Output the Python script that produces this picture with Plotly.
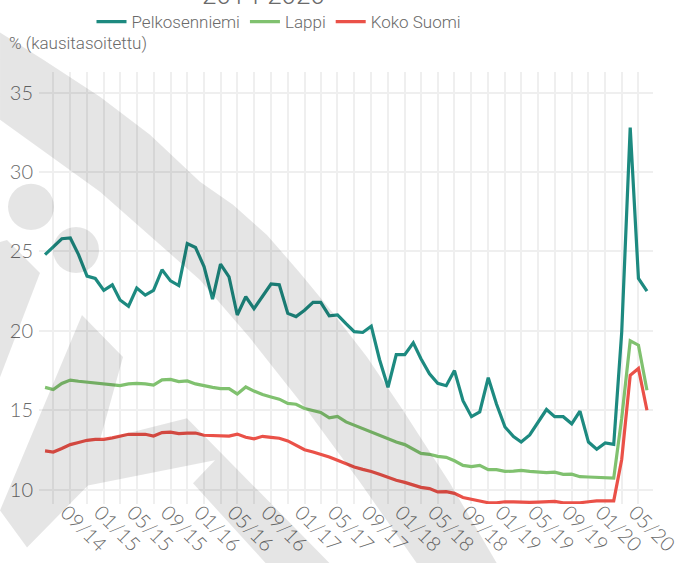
import plotly.graph_objects as go
import pandas as pd

# ---- data (monthly, 06/2014 - 06/2020), seasonally adjusted unemployment %
months = pd.date_range("2014-06-01", "2020-06-01", freq="MS")

pelkosenniemi = [24.8, 25.3, 25.8, 25.85, 24.8, 23.45, 23.3, 22.55, 22.9, 21.95,
                 21.55, 22.7, 22.25, 22.55, 23.85, 23.15, 22.85, 25.5, 25.25, 24.05,
                 22.0, 24.2, 23.4, 21.0, 22.15, 21.4, 22.15, 22.95, 22.9, 21.1,
                 20.9, 21.3, 21.8, 21.8, 20.95, 21.0, 20.45, 19.95, 19.9, 20.3,
                 18.2, 16.45, 18.5, 18.5, 19.25, 18.25, 17.3, 16.7, 16.55, 17.5,
                 15.6, 14.6, 14.9, 17.05, 15.4, 13.95, 13.35, 13.0, 13.45, 14.2,
                 15.05, 14.6, 14.6, 14.15, 14.95, 13.0, 12.55, 12.95, 12.85, 19.9,
                 32.8, 23.3, 22.5]

lappi = [16.44, 16.31, 16.69, 16.9, 16.83, 16.77, 16.71, 16.64, 16.58, 16.56,
         16.66, 16.69, 16.66, 16.58, 16.92, 16.94, 16.81, 16.85, 16.66, 16.53,
         16.44, 16.37, 16.36, 16.03, 16.47, 16.21, 15.99, 15.84, 15.7, 15.43,
         15.38, 15.11, 15.0, 14.86, 14.52, 14.62, 14.27, 14.06, 13.85, 13.6,
         13.41, 13.22, 13.0, 12.84, 12.56, 12.29, 12.23, 12.1, 12.04, 11.82,
         11.53, 11.45, 11.53, 11.26, 11.26, 11.15, 11.17, 11.22, 11.15, 11.11,
         11.07, 11.11, 10.97, 10.98, 10.82, 10.8, 10.78, 10.73, 10.73, 14.5,
         19.38, 19.1, 16.26]

koko_suomi = [12.44, 12.37, 12.59, 12.84, 12.97, 13.11, 13.17, 13.17, 13.26, 13.38,
              13.49, 13.49, 13.49, 13.38, 13.6, 13.62, 13.53, 13.56, 13.57, 13.43,
              13.41, 13.41, 13.38, 13.5, 13.3, 13.2, 13.36, 13.3, 13.24, 13.07,
              12.79, 12.52, 12.37, 12.23, 12.06, 11.85, 11.64, 11.43, 11.28, 11.15,
              10.97, 10.76, 10.59, 10.46, 10.27, 10.15, 10.07, 9.86, 9.88, 9.77,
              9.51, 9.39, 9.28, 9.18, 9.18, 9.24, 9.24, 9.2, 9.2, 9.22,
              9.24, 9.26, 9.18, 9.18, 9.18, 9.24, 9.3, 9.3, 9.3, 11.9,
              17.2, 17.63, 15.0]

series_names = ["Pelkosenniemi", "Lappi", "Koko Suomi"]
series_values = [pelkosenniemi, lappi, koko_suomi]
series_colors = ["#1d8a80", "#80c16f", "#ea5148"]

y_ticks = [10, 15, 20, 25, 30, 35]

# ---- layout geometry (pixels)
W, H = 677, 563
PL, PR, PT, PB = 39, 653, 72.4, 503.6
PW, PH = PR - PL, PB - PT

TXT = "#6a6a6a"
LABF = "Roboto, sans-serif"
TICKF = "Lato, Roboto, sans-serif"


def px(x):
    return (x - PL) / PW


def py(y):
    return (PB - y) / PH


fig = go.Figure()
for name, vals, col in zip(series_names, series_values, series_colors):
    fig.add_trace(go.Scatter(x=months, y=vals, mode="lines", name=name,
                             line=dict(color=col, width=3.2)))

# ---- watermark (semi-transparent grey logo shapes drawn over the chart)
WM = "rgba(0,0,0,0.10)"


def poly(pts):
    d = "M " + " L ".join(f"{px(a):.4f},{py(b):.4f}" for a, b in pts) + " Z"
    return dict(type="path", xref="paper", yref="paper", path=d,
                fillcolor=WM, line=dict(width=0), layer="above")


band = [(0, 33), (43, 60), (100, 97), (150, 135), (200, 182), (233, 205), (267, 235),
        (300, 273), (333, 313), (367, 357), (403, 410), (450, 483), (497, 563),
        (417, 563), (360, 482), (307, 410), (250, 338), (200, 280), (100, 192), (0, 120)]
kpiece = [(0, 242), (7, 240), (40, 273), (0, 377)]
chevron = [(82, 315), (123, 357), (100, 440), (187, 418), (330, 563), (266, 563),
           (193, 483), (215, 460), (88, 485), (27, 547), (0, 510)]

shapes = [poly(band), poly(kpiece), poly(chevron)]
for cx, cy, r in [(31, 207, 23), (76, 250, 23)]:
    shapes.append(dict(type="circle", xref="paper", yref="paper",
                       x0=px(cx - r), x1=px(cx + r), y0=py(cy + r), y1=py(cy - r),
                       fillcolor=WM, line=dict(width=0), layer="above"))

fig.update_layout(
    width=W, height=H,
    margin=dict(l=PL, r=W - PR, t=PT, b=H - PB, pad=0),
    paper_bgcolor="white", plot_bgcolor="white",
    template="none",
    showlegend=True,
    legend=dict(orientation="h", xref="container", yref="container",
                xanchor="center", x=279 / W, yanchor="middle", y=1 - 22 / H,
                font=dict(family=LABF, size=17, color=TXT, weight=300), itemwidth=30,
                bgcolor="rgba(0,0,0,0)"),
    shapes=shapes,
    annotations=[
        dict(text="% (kausitasoitettu)", xref="paper", yref="paper", x=px(7), y=py(43),
             xanchor="left", yanchor="middle", showarrow=False,
             font=dict(family=LABF, size=17, color=TXT, weight=300)),
        dict(text="2014-2020", xref="paper", yref="paper", x=px(263), y=py(13),
             xanchor="center", yanchor="bottom", showarrow=False,
             font=dict(family=LABF, size=26, color=TXT, weight=300)),
    ],
)

fig.update_xaxes(
    range=["2014-05-10", "2020-06-23"], type="date",
    tick0="2014-09-01", dtick="M4", tickformat="%m/%y", tickangle=45,
    ticks="", showline=False, zeroline=False, automargin=False,
    ticklabeloverflow="allow", ticklabelstandoff=-8, ticklabelshift=-4,
    showgrid=True, gridcolor="#efefef", gridwidth=1.6,
    minor=dict(dtick="M2", showgrid=True, gridcolor="#efefef", gridwidth=1.6, ticks=""),
    tickfont=dict(family=TICKF, size=20, color=TXT, weight=300),
)
fig.update_yaxes(
    range=[9.1, 36.3], tickvals=y_ticks, ticktext=[str(v) for v in y_ticks],
    ticks="", showline=False, zeroline=False, automargin=False,
    ticklabelstandoff=5,
    showgrid=True, gridcolor="#efefef", gridwidth=2,
    tickfont=dict(family=TICKF, size=20, color=TXT, weight=300),
)

fig.write_html("out.html", post_script="document.body.style.margin='0';",
               config={"displayModeBar": False})
